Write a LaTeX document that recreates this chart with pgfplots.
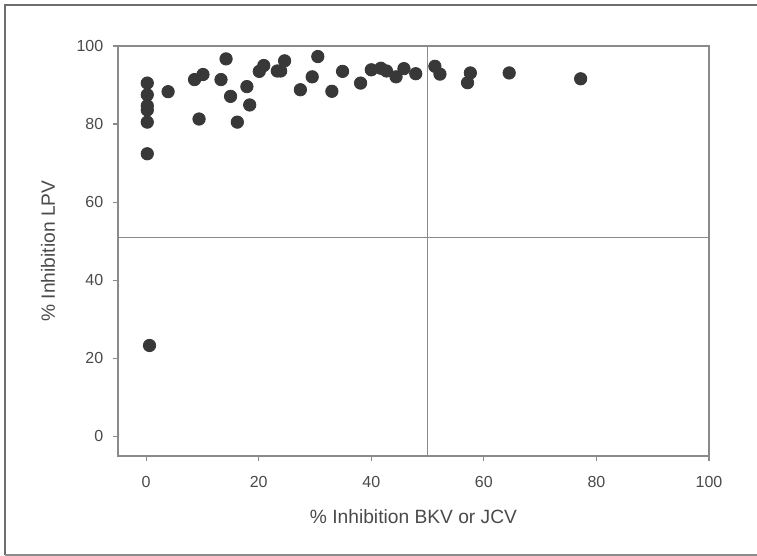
\documentclass[border=0pt]{standalone}
\usepackage{pgfplots}
\pgfplotsset{compat=1.18}
\usepackage{fontspec}
\setmainfont{Liberation Sans}
\definecolor{dotc}{HTML}{383838}
\definecolor{axc}{HTML}{8A8A8A}
\definecolor{txtc}{HTML}{4A4A4A}
\definecolor{framec}{HTML}{6E6E6E}
\begin{document}
\begin{tikzpicture}[x=0.5pt,y=0.5pt]
\useasboundingbox (0,0) rectangle (757,556);
\draw[framec, line width=1.1pt] (5,0.5) -- (5,551) -- (757,551);
\draw[framec!80, line width=0.8pt] (5,1) -- (757,1);
\begin{axis}[
  at={(59pt,50pt)}, anchor=south west,
  scale only axis, width=295.5pt, height=205pt,
  xmin=-5, xmax=100, ymin=-5, ymax=100,
  xtick={0,20,40,60,80,100}, ytick={0,20,40,60,80,100},
  tick align=outside, major tick length=2.6pt,
  xtick pos=bottom, ytick pos=left,
  axis line style={axc, line width=0.7pt},
  every tick/.style={axc, line width=0.6pt},
  tick label style={font=\fontsize{8}{9.5}\selectfont, text=txtc},
  /pgf/number format/assume math mode=true,
  xticklabel style={anchor=center, yshift=-10.5pt},
  yticklabel style={anchor=east, inner sep=0pt, xshift=-4.6pt},
  label style={font=\fontsize{9.6}{11}\selectfont, text=txtc},
  xlabel={\% Inhibition BKV or JCV},
  ylabel={\% Inhibition LPV},
  xlabel style={at={(axis description cs:0.5,-0.1488)}, anchor=center},
  ylabel style={at={(axis description cs:-0.1184,0.5)}, anchor=center},
  clip=false,
]
\draw[axc, line width=0.6pt] (axis cs:50,-5) -- (axis cs:50,100);
\draw[axc, line width=0.6pt] (axis cs:-5,51) -- (axis cs:100,51);
\addplot[only marks, mark=*, mark size=3.1pt, dotc, mark options={draw=dotc, fill=dotc}] coordinates {
(0.2,90.5) (0.2,87.5) (0.2,84.7) (0.2,83.6) (0.2,80.5) (0.2,72.4) (0.6,23.3)
(3.9,88.3) (8.6,91.4) (10.1,92.7) (9.4,81.3) (13.3,91.4) (14.2,96.7) (15.0,87.1)
(16.2,80.5) (17.9,89.6) (18.4,84.9) (20.1,93.5) (20.9,95.0) (23.3,93.6) (23.9,93.6)
(24.6,96.2) (27.4,88.8) (29.5,92.1) (30.5,97.3) (33.0,88.4) (34.9,93.5) (38.1,90.5)
(40.0,93.9) (41.7,94.3) (42.7,93.6) (44.4,92.1) (45.8,94.2) (47.9,92.9) (51.3,94.8)
(52.2,92.8) (57.1,90.6) (57.6,93.1) (64.5,93.1) (77.2,91.6)
};
\end{axis}
\end{tikzpicture}
\end{document}
